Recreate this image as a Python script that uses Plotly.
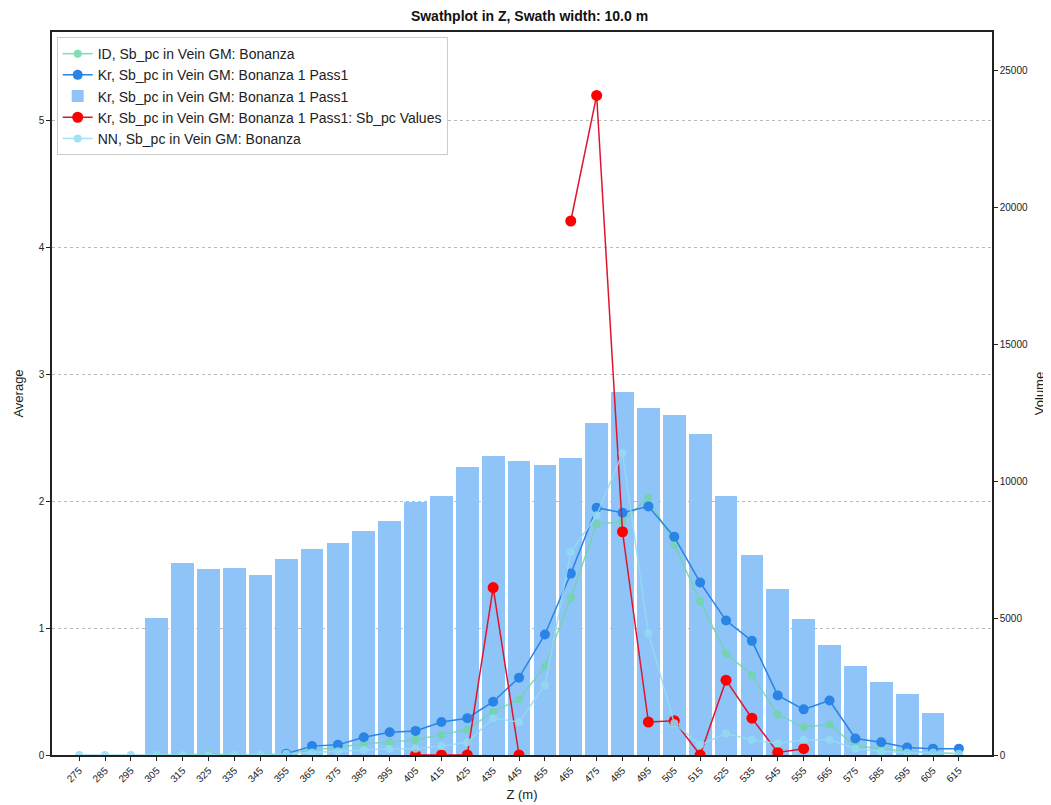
#!/usr/bin/env python3
"""
Swathplot in Z: block model averages vs. composite values, with volume bars.
"""

import plotly.graph_objects as go

# Data
z_values = list(range(275, 625, 10))
z_labels = [str(z) for z in z_values]

volume = [None, None, None,
          5000, 7000, 6790, 6830, 6570, 7150, 7520, 7740, 8170, 8540,
          9230, 9450, 10510, 10910, 10730, 10580, 10840, 12120, 13250, 12660,
          12410, 11710, 9450, 7300, 6060, 4960, 4020, 3250, 2660, 2230, 1530,
          None]

id_avg = [None, None, None,
          0.0, 0.0, 0.01, 0.0, 0.0, 0.01, 0.04, 0.06, 0.09, 0.10,
          0.12, 0.16, 0.20, 0.34, 0.44, 0.70, 1.24, 1.82, 1.84, 2.03,
          1.66, 1.21, 0.80, 0.63, 0.32, 0.22, 0.24, 0.07, 0.05, 0.03, 0.02,
          0.01]

kr_avg = [None, None, None,
          None, None, None, None, None, 0.01, 0.07, 0.08, 0.14, 0.18,
          0.19, 0.26, 0.29, 0.42, 0.61, 0.95, 1.43, 1.95, 1.91, 1.96,
          1.72, 1.36, 1.06, 0.90, 0.47, 0.36, 0.43, 0.13, 0.10, 0.06, 0.05,
          0.05]

kr_values = [None, None, None,
             None, None, None, None, None, None, None, None, None, None,
             0.0, 0.0, 0.0, 1.32, 0.0, None, 4.21, 5.20, 1.76, 0.26,
             0.27, 0.0, 0.59, 0.29, 0.02, 0.05, None, None, None, None, None,
             None]

nn_avg = [0.0, 0.0, 0.0,
          0.0, 0.0, 0.0, 0.0, 0.0, 0.01, 0.02, 0.03, 0.04, 0.05,
          0.05, 0.07, 0.10, 0.29, 0.26, 0.55, 1.60, 1.89, 2.38, 0.96,
          0.25, 0.08, 0.17, 0.12, 0.09, 0.12, 0.12, 0.05, 0.03, 0.02, 0.02,
          0.01]

# Figure
fig = go.Figure()

fig.add_trace(go.Bar(
    name='Kr, Sb_pc in Vein GM: Bonanza 1 Pass1',
    x=z_values, y=volume,
    width=8.8,
    marker=dict(color='#8fc4f8', line=dict(width=0)),
    yaxis='y',
    legendrank=3,
))

fig.add_trace(go.Scatter(
    name='ID, Sb_pc in Vein GM: Bonanza',
    x=z_values, y=id_avg,
    mode='lines+markers',
    line=dict(color='#6fd6a8', width=1.5),
    marker=dict(color='#6fd6a8', size=8),
    opacity=0.85,
    yaxis='y2',
    legendrank=1,
))

fig.add_trace(go.Scatter(
    name='Kr, Sb_pc in Vein GM: Bonanza 1 Pass1',
    x=z_values, y=kr_avg,
    mode='lines+markers',
    line=dict(color='#2a84e6', width=1.5),
    marker=dict(color='#2a84e6', size=10),
    yaxis='y2',
    legendrank=2,
))

fig.add_trace(go.Scatter(
    name='Kr, Sb_pc in Vein GM: Bonanza 1 Pass1: Sb_pc Values',
    x=z_values, y=kr_values,
    mode='lines+markers',
    line=dict(color='#dd1530', width=1.5),
    marker=dict(color='#ff0000', size=11),
    yaxis='y2',
    legendrank=4,
))

fig.add_trace(go.Scatter(
    name='NN, Sb_pc in Vein GM: Bonanza',
    x=z_values, y=nn_avg,
    mode='lines+markers',
    line=dict(color='#93dcf2', width=1.5),
    marker=dict(color='#93dcf2', size=8),
    opacity=0.85,
    yaxis='y2',
    legendrank=5,
))

# page body has an 8px margin, so the figure is sized to fit the window
fig.update_layout(
    width=1043,
    height=797,
    title=dict(
        text='<b>Swathplot in Z, Swath width: 10.0 m</b>',
        x=0.5, xanchor='center',
        y=0.99, yanchor='middle',
        font=dict(size=14, color='#111111'),
    ),
    font=dict(family='Liberation Sans, Arial, sans-serif', size=12, color='#222222'),
    plot_bgcolor='white',
    paper_bgcolor='white',
    margin=dict(l=44, r=59, t=24, b=50),
    bargap=0,
    legend=dict(
        x=0.005, y=0.993, xanchor='left', yanchor='top',
        bgcolor='rgba(255,255,255,0.9)',
        bordercolor='#cccccc', borderwidth=1,
        font=dict(size=14, color='#222222'),
        tracegroupgap=0,
        itemwidth=30,
    ),
    xaxis=dict(
        title=dict(text='Z (m)', font=dict(size=13), standoff=6),
        range=[264.5, 627.8],
        tickmode='array',
        tickvals=z_values,
        ticktext=z_labels,
        tickangle=-45,
        tickfont=dict(size=10),
        ticks='outside', ticklen=4, tickcolor='#222222',
        showline=True, linecolor='#222222', linewidth=1.5,
        mirror=True,
        showgrid=False,
        zeroline=False,
        automargin=False,
    ),
    yaxis=dict(
        title=dict(text='Volume', font=dict(size=13), standoff=8),
        side='right',
        range=[0, 26390],
        tickvals=[0, 5000, 10000, 15000, 20000, 25000],
        tickformat='d',
        tickfont=dict(size=10),
        ticks='outside', ticklen=4, tickcolor='#222222',
        showline=True, linecolor='#222222', linewidth=1.5,
        showgrid=False,
        zeroline=False,
        automargin=False,
    ),
    yaxis2=dict(
        title=dict(text='Average', font=dict(size=13), standoff=12),
        side='left',
        overlaying='y',
        range=[0, 5.70],
        tickvals=[0, 1, 2, 3, 4, 5],
        tickfont=dict(size=10),
        ticks='outside', ticklen=4, tickcolor='#222222',
        showline=True, linecolor='#222222', linewidth=1.5,
        showgrid=True, gridcolor='#bbbbbb', gridwidth=1, griddash='dot',
        zeroline=False,
        automargin=False,
    ),
)

fig.write_html('out.html')
